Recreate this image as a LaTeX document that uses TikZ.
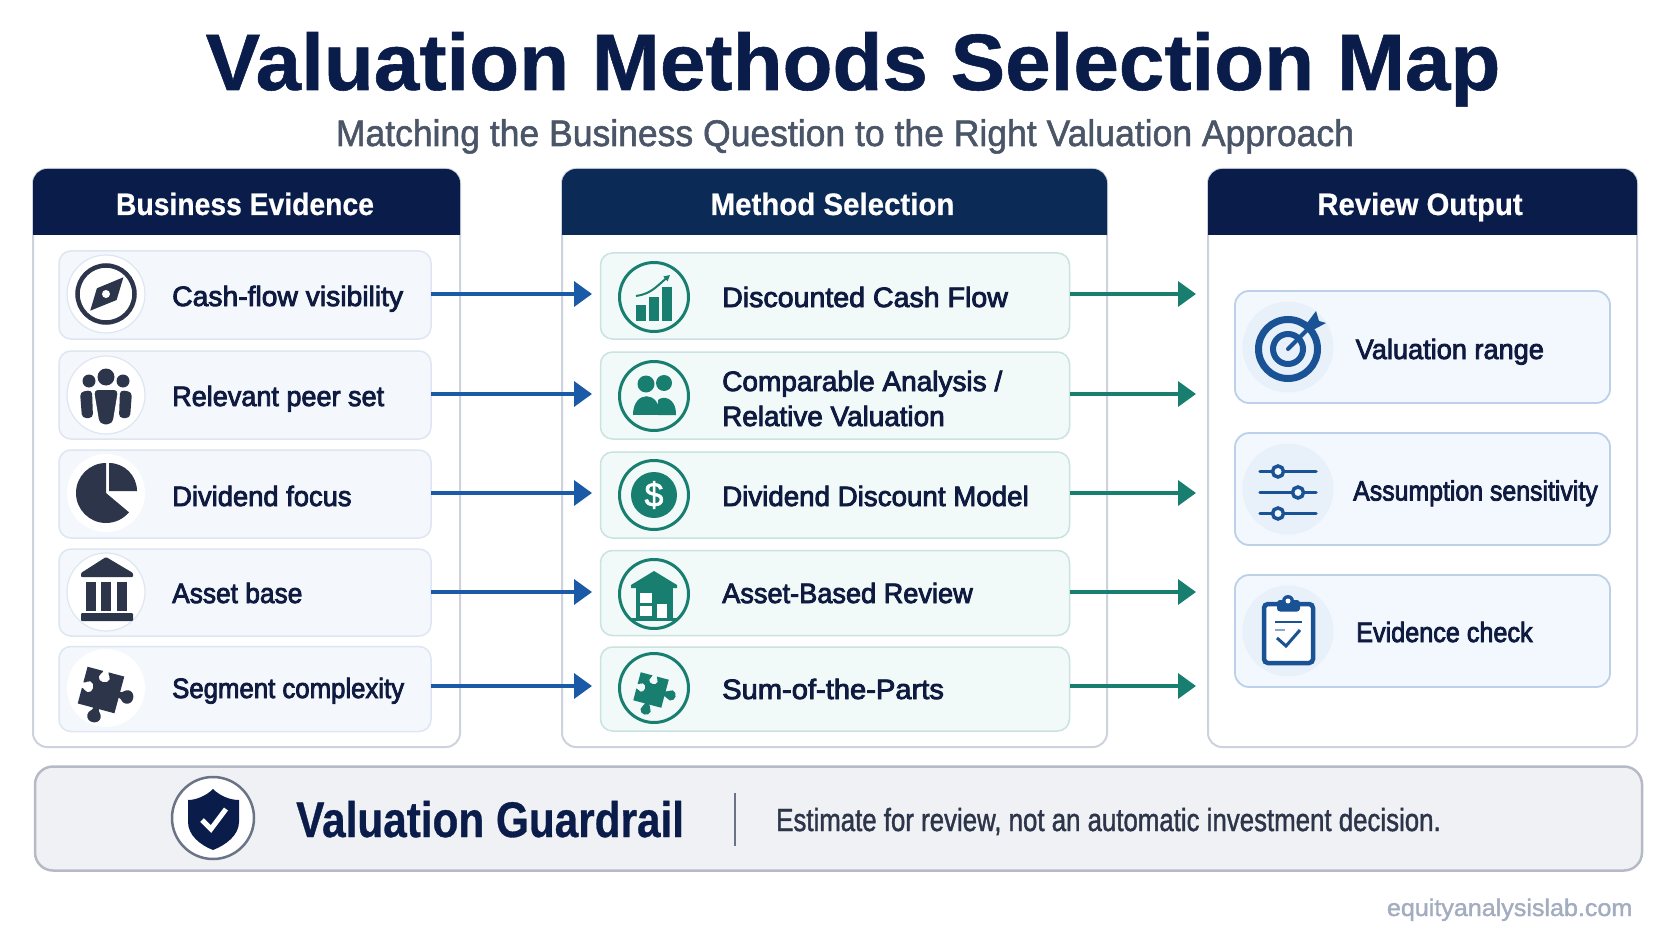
\documentclass[tikz,border=0pt]{standalone}
\usepackage{fontspec}
\usepackage{graphicx}
\usetikzlibrary{arrows.meta}
\setmainfont{Liberation Sans}
\newfontfamily\labelfont[FakeBold=3]{Liberation Sans}
\newfontfamily\softfont[FakeBold=1.5]{Liberation Sans}
\newfontfamily\heavyfont[FakeBold=0.7]{Liberation Sans}

\definecolor{navy}{HTML}{0A1D4A}
\definecolor{navymid}{HTML}{0B2A56}
\definecolor{ink}{HTML}{0E1A3F}
\definecolor{slate}{HTML}{2C3549}
\definecolor{subgrey}{HTML}{4A5568}
\definecolor{rulegrey}{HTML}{CDD2DD}
\definecolor{flowblue}{HTML}{1A5AA6}
\definecolor{flowteal}{HTML}{187F70}
\definecolor{deepblue}{HTML}{1A5296}
\definecolor{evfill}{HTML}{F4F8FD}
\definecolor{evline}{HTML}{DDE6F2}
\definecolor{mefill}{HTML}{F2F9F9}
\definecolor{meline}{HTML}{C9E3E0}
\definecolor{outfill}{HTML}{F3F8FE}
\definecolor{outline}{HTML}{BCD0E8}
\definecolor{outdisc}{HTML}{E8F0FA}
\definecolor{barfill}{HTML}{F0F1F4}
\definecolor{barline}{HTML}{B5BAC6}
\definecolor{sitegrey}{HTML}{A3ADBF}
\definecolor{darkrule}{HTML}{6B7386}

\tikzset{
  panel/.style={draw=rulegrey, line width=2pt, fill=white, rounded corners=14pt, inner sep=0pt, outer sep=0pt},
  evcard/.style={draw=evline, line width=1.5pt, fill=evfill, rounded corners=12pt, inner sep=0pt, outer sep=0pt},
  mecard/.style={draw=meline, line width=1.5pt, fill=mefill, rounded corners=12pt, inner sep=0pt, outer sep=0pt},
  outcard/.style={draw=outline, line width=1.8pt, fill=outfill, rounded corners=14pt, inner sep=0pt, outer sep=0pt},
  headtext/.style={anchor=base, inner sep=0pt, text=white, font=\heavyfont\bfseries\fontsize{31}{36}\selectfont},
  lab/.style={anchor=base west, inner sep=0pt, text=ink, font=\labelfont\fontsize{28}{32}\selectfont},
  bluearrow/.style={draw=flowblue, line width=3.6pt, -{Triangle[length=18pt,width=25pt]}},
  tealarrow/.style={draw=flowteal, line width=3.6pt, -{Triangle[length=18pt,width=25pt]}},
  evring/.style={draw=evline, line width=1.2pt, fill=white},
  mering/.style={draw=flowteal, line width=3pt, fill=mefill},
  outring/.style={fill=outdisc}
}

\newcommand{\squeeze}[2]{\scalebox{#1}[1]{#2}}

\newcommand{\puzzleicon}[3]{%
  \begin{scope}[shift={(#1)}, rotate=-15, x=#2pt, y=#2pt]
    \fill[#3] (-1,-1) -- (-0.15,-1) .. controls (-0.12,-1.15) and (-0.38,-1.2) .. (-0.36,-1.45)
      .. controls (-0.32,-1.85) and (0.32,-1.85) .. (0.36,-1.45) .. controls (0.38,-1.2) and (0.12,-1.15) .. (0.15,-1)
      -- (1,-1) -- (1,-0.15) .. controls (1.15,-0.12) and (1.2,-0.38) .. (1.45,-0.36)
      .. controls (1.85,-0.32) and (1.85,0.32) .. (1.45,0.36) .. controls (1.2,0.38) and (1.15,0.12) .. (1,0.15)
      -- (1,1) -- (0.15,1) .. controls (0.12,0.88) and (0.32,0.82) .. (0.3,0.65)
      .. controls (0.27,0.35) and (-0.27,0.35) .. (-0.3,0.65) .. controls (-0.32,0.82) and (-0.12,0.88) .. (-0.15,1)
      -- (-1,1) -- (-1,0.15) .. controls (-0.88,0.12) and (-0.82,0.32) .. (-0.65,0.3)
      .. controls (-0.35,0.27) and (-0.35,-0.27) .. (-0.65,-0.3) .. controls (-0.82,-0.32) and (-0.88,-0.12) .. (-1,-0.15) -- cycle;
  \end{scope}}

\begin{document}
\begin{tikzpicture}[x=1pt, y=-1pt]
    \useasboundingbox (0,0) rectangle (1672,941);

    % Title
    \node[anchor=base, inner sep=0pt, text=navy, font=\heavyfont\bfseries\fontsize{80}{90}\selectfont] (title) at (853,90) {\squeeze{1.022}{Valuation Methods Selection Map}};
    \node[anchor=base, inner sep=0pt, text=subgrey, font=\softfont\fontsize{37}{42}\selectfont] (subtitle) at (845,146) {\squeeze{0.96}{Matching the Business Question to the Right Valuation Approach}};

    % Panels
    \node[panel, minimum width=427pt, minimum height=578pt] (evpanel) at (246.5,458) {};
    \node[panel, minimum width=545pt, minimum height=578pt] (mepanel) at (834.5,458) {};
    \node[panel, minimum width=429pt, minimum height=578pt] (outpanel) at (1422.5,458) {};

    % Panel headers
    \fill[navy] (33,235) [rounded corners=14pt] -- (33,169) -- (460,169) [sharp corners] -- (460,235) -- cycle;
    \fill[navymid] (562,235) [rounded corners=14pt] -- (562,169) -- (1107,169) [sharp corners] -- (1107,235) -- cycle;
    \fill[navy] (1208,235) [rounded corners=14pt] -- (1208,169) -- (1637,169) [sharp corners] -- (1637,235) -- cycle;
    \node[headtext] (evhead) at (245,215) {\squeeze{0.913}{Business Evidence}};
    \node[headtext] (mehead) at (832.5,215) {\squeeze{0.95}{Method Selection}};
    \node[headtext] (outhead) at (1420,215) {\squeeze{0.946}{Review Output}};

    % Evidence cards
    \node[evcard, minimum width=372pt, minimum height=88pt] (ev1) at (245,295) {};
    \node[evcard, minimum width=372pt, minimum height=88pt] (ev2) at (245,395) {};
    \node[evcard, minimum width=372pt, minimum height=88pt] (ev3) at (245,494) {};
    \node[evcard, minimum width=372pt, minimum height=87pt] (ev4) at (245,592.5) {};
    \node[evcard, minimum width=372pt, minimum height=85pt] (ev5) at (245,689) {};
    \node[lab] (evlab1) at (172,306) {\squeeze{1.01}{Cash-flow visibility}};
    \node[lab] (evlab2) at (172,406) {\squeeze{0.966}{Relevant peer set}};
    \node[lab] (evlab3) at (172,506) {\squeeze{0.977}{Dividend focus}};
    \node[lab] (evlab4) at (172,603) {\squeeze{0.94}{Asset base}};
    \node[lab] (evlab5) at (172,698) {\squeeze{0.92}{Segment complexity}};

    % Method cards
    \node[mecard, minimum width=469pt, minimum height=86pt] (me1) at (835,296) {};
    \node[mecard, minimum width=469pt, minimum height=87pt] (me2) at (835,395.5) {};
    \node[mecard, minimum width=469pt, minimum height=86pt] (me3) at (835,495) {};
    \node[mecard, minimum width=469pt, minimum height=85pt] (me4) at (835,593) {};
    \node[mecard, minimum width=469pt, minimum height=84pt] (me5) at (835,689) {};
    \node[lab] (melab1) at (722,307) {\squeeze{1.02}{Discounted Cash Flow}};
    \node[lab] (melab2a) at (722,391) {Comparable Analysis /};
    \node[lab] (melab2b) at (722,426) {\squeeze{0.995}{Relative Valuation}};
    \node[lab] (melab3) at (722,506) {\squeeze{0.99}{Dividend Discount Model}};
    \node[lab] (melab4) at (722,603) {\squeeze{0.97}{Asset-Based Review}};
    \node[lab] (melab5) at (722,699) {\squeeze{1.04}{Sum-of-the-Parts}};

    % Output cards
    \node[outcard, minimum width=375pt, minimum height=112pt] (out1) at (1422.5,347) {};
    \node[outcard, minimum width=375pt, minimum height=112pt] (out2) at (1422.5,489) {};
    \node[outcard, minimum width=375pt, minimum height=112pt] (out3) at (1422.5,631) {};
    \node[lab] (outlab1) at (1355.5,359) {\squeeze{0.97}{Valuation range}};
    \node[lab] (outlab2) at (1353,500.5) {\squeeze{0.888}{Assumption sensitivity}};
    \node[lab] (outlab3) at (1356,642) {\squeeze{0.90}{Evidence check}};

    % Arrow ends
    \coordinate (b1) at (592,294);
    \coordinate (b2) at (592,394);
    \coordinate (b3) at (592,493);
    \coordinate (b4) at (592,592);
    \coordinate (b5) at (592,686);
    \coordinate (t1) at (1196,294);
    \coordinate (t2) at (1196,394);
    \coordinate (t3) at (1196,493);
    \coordinate (t4) at (1196,592);
    \coordinate (t5) at (1196,686);

    % Arrows
    \draw[bluearrow] (ev1.east |- b1) -- (b1);
    \draw[bluearrow] (ev2.east |- b2) -- (b2);
    \draw[bluearrow] (ev3.east |- b3) -- (b3);
    \draw[bluearrow] (ev4.east |- b4) -- (b4);
    \draw[bluearrow] (ev5.east |- b5) -- (b5);
    \draw[tealarrow] (me1.east |- t1) -- (t1);
    \draw[tealarrow] (me2.east |- t2) -- (t2);
    \draw[tealarrow] (me3.east |- t3) -- (t3);
    \draw[tealarrow] (me4.east |- t4) -- (t4);
    \draw[tealarrow] (me5.east |- t5) -- (t5);

    % Compass icon
    \draw[evring] (106,294) circle (39);
    \draw[slate, line width=4.5pt] (106,294) circle (28.5);
    \fill[slate] (123.4,277.3) -- (96.9,288.3) -- (90.2,310.7) -- (116.6,300) -- cycle;
    \fill[white] (106,294) circle (4);

    % Peers icon
    \draw[evring] (106,395) circle (39);
    \fill[slate] (89,381) circle (6.5);
    \fill[slate] (123,381) circle (6.5);
    \fill[slate] (106,377) circle (8.5);
    \fill[slate, rounded corners=4pt] (82,418) -- (80,392) -- (92,390) -- (93,418) -- cycle;
    \fill[slate, rounded corners=4pt] (119,418) -- (120,390) -- (132,392) -- (130,418) -- cycle;
    \draw[white, line width=1.5pt, fill=slate, rounded corners=5pt] (99,425) -- (93,389) -- (119,389) -- (113,425) -- cycle;

    % Pie icon
    \fill[white] (106,493) circle (39);
    \fill[slate] (106,493) -- (106,463) arc[start angle=-90, end angle=-320, radius=30] -- cycle;
    \fill[slate] (109,491) -- (109,463) arc[start angle=-90, end angle=0, radius=28] -- cycle;

    % Bank icon
    \draw[evring] (106,592) circle (39);
    \fill[slate, rounded corners=1pt] (106,557) -- (133,573) -- (133,577) -- (81,577) -- (81,573) -- cycle;
    \fill[slate] (86,582) rectangle (96,611);
    \fill[slate] (101,582) rectangle (111,611);
    \fill[slate] (117,582) rectangle (127,611);
    \fill[slate, rounded corners=1pt] (81,613) rectangle (133,621);

    % Segment icon
    \fill[white] (106,688) circle (39);
    \puzzleicon{101,690}{19}{slate}

    % Chart icon
    \draw[mering] (654,297) circle (34.5);
    \fill[flowteal] (636,305) rectangle (646,321);
    \fill[flowteal] (649,297) rectangle (659,321);
    \fill[flowteal] (662,287) rectangle (672,321);
    \draw[flowteal, line width=2pt, -{Triangle[length=6pt,width=6pt]}] (636,296) .. controls (650,294) and (655,288) .. (670,275);

    % Comparable icon
    \draw[mering] (654,396) circle (34.5);
    \fill[flowteal] (664,383) circle (8);
    \fill[flowteal] (658,415) -- (658,400) .. controls (662,396) and (676,396) .. (676,415) -- cycle;
    \fill[flowteal] (646,384) circle (8.5);
    \fill[flowteal] (633,415) .. controls (633,390) and (660,390) .. (660,415) -- cycle;

    % Dividend icon
    \draw[mering] (654,495) circle (34.5);
    \fill[flowteal] (654,495) circle (23);
    \node[text=white, font=\softfont\fontsize{34}{38}\selectfont] (dollar) at (654,495) {\$};

    % House icon
    \draw[mering] (654,594) circle (34.5);
    \fill[flowteal] (654,571) -- (677,585) -- (677,588) -- (631,588) -- (631,585) -- cycle;
    \fill[flowteal] (636,586) rectangle (673,618);
    \fill[flowteal] (631,618) rectangle (677,621);
    \fill[white] (640,593) rectangle (652,603);
    \fill[white] (640,606) rectangle (652,616);
    \fill[white] (657,604) rectangle (667,618);

    % Parts icon
    \draw[mering] (654,688) circle (34.5);
    \puzzleicon{651,690}{14.5}{flowteal}

    % Target icon
    \fill[outring] (1288,347) circle (45.5);
    \draw[deepblue, line width=7pt] (1288,349) circle (29.5);
    \draw[deepblue, line width=6pt] (1288,349) circle (15);
    \draw[deepblue, line width=4pt, line cap=round] (1288,349) -- (1312,325);
    \fill[deepblue] (1307,323) -- (1316,311) -- (1319,321) -- (1326,323) -- (1313,330) -- cycle;

    % Sliders icon
    \fill[outring] (1288,489) circle (45.5);
    \draw[deepblue, line width=3.5pt, line cap=round] (1260,471.5) -- (1316,471.5);
    \draw[deepblue, line width=3.5pt, line cap=round] (1260,492.5) -- (1316,492.5);
    \draw[deepblue, line width=3.5pt, line cap=round] (1260,513.5) -- (1316,513.5);
    \draw[deepblue, line width=3.5pt, fill=outfill] (1278,471.5) circle (5.5);
    \draw[deepblue, line width=3.5pt, fill=outfill] (1298,492.5) circle (5.5);
    \draw[deepblue, line width=3.5pt, fill=outfill] (1278,513.5) circle (5.5);

    % Clipboard icon
    \fill[outring] (1288,631) circle (45.5);
    \draw[deepblue, line width=4.5pt, fill=white, rounded corners=4pt] (1264,604) rectangle (1313,663);
    \fill[deepblue, rounded corners=3pt] (1277,611.5) rectangle (1300,600);
    \fill[deepblue] (1288,601) circle (6);
    \fill[white] (1288,601) circle (2.5);
    \draw[deepblue, line width=2.5pt] (1275,622) -- (1302,622);
    \draw[deepblue!50, line width=1.5pt] (1275,630) -- (1285,630);
    \draw[deepblue, line width=3pt] (1277,638) -- (1286,646) -- (1300,630);

    % Guardrail bar
    \node[draw=barline, line width=2.5pt, fill=barfill, rounded corners=18pt, inner sep=0pt, outer sep=0pt, minimum width=1607pt, minimum height=104pt] (guard) at (838.5,818.5) {};
    \draw[darkrule, line width=2.5pt, fill=white] (213,818) circle (41);
    \fill[navy] (213,789) .. controls (220,796) and (230,800) .. (239,800) -- (239,822) .. controls (239,835) and (226,845) .. (213,850) .. controls (200,845) and (188,835) .. (188,822) -- (188,800) .. controls (196,800) and (206,796) .. (213,789) -- cycle;
    \draw[white, line width=5pt] (202,820) -- (211,829) -- (226,809);
    \node[anchor=base west, inner sep=0pt, text=navy, font=\heavyfont\bfseries\fontsize{50}{56}\selectfont] (guardtitle) at (296,837) {\squeeze{0.846}{Valuation Guardrail}};
    \coordinate (divtop) at (735,793);
    \coordinate (divbot) at (735,846);
    \draw[darkrule, line width=2pt] (divtop) -- (divbot);
    \node[anchor=base west, inner sep=0pt, text=slate, font=\softfont\fontsize{32}{38}\selectfont] (guardnote) at (776,831) {\squeeze{0.807}{Estimate for review, not an automatic investment decision.}};

    % Site name
    \node[anchor=base east, inner sep=0pt, text=sitegrey, font=\softfont\fontsize{24}{28}\selectfont] (site) at (1632.5,916) {\squeeze{1.045}{equityanalysislab.com}};

\end{tikzpicture}
\end{document}
